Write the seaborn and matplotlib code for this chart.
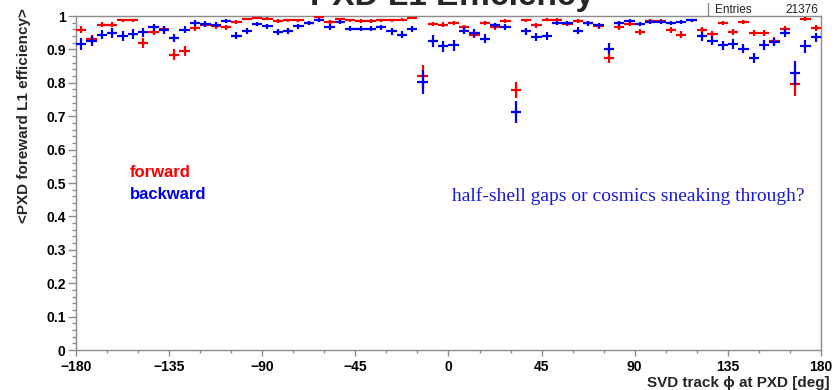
import numpy as np
import pandas as pd
import matplotlib
matplotlib.use("Agg")
import matplotlib.pyplot as plt
from matplotlib.ticker import MultipleLocator, FixedLocator, FixedFormatter
import seaborn as sns

# 72 bins of 5 deg in phi
phi_edges = np.arange(-180, 181, 5)
phi_centers = (phi_edges[:-1] + phi_edges[1:]) / 2

eff_forward = [
    0.959, 0.930, 0.974, 0.974, 0.987, 0.987, 0.919, 0.952, 0.962, 0.884,
    0.894, 0.964, 0.974, 0.969, 0.966, 0.982, 0.991, 0.994, 0.992, 0.984,
    0.987, 0.987, 0.979, 0.998, 0.982, 0.990, 0.987, 0.984, 0.984, 0.987,
    0.987, 0.989, 0.994, 0.819, 0.976, 0.974, 0.979, 0.966, 0.944, 0.979,
    0.967, 0.984, 0.779, 0.987, 0.972, 0.989, 0.989, 0.976, 0.984, 0.978,
    0.969, 0.874, 0.967, 0.976, 0.952, 0.984, 0.984, 0.959, 0.944, 0.987,
    0.959, 0.946, 0.979, 0.952, 0.982, 0.949, 0.949, 0.924, 0.962, 0.796,
    0.991, 0.964,
]
err_forward = [
    0.010, 0.012, 0.008, 0.008, 0.005, 0.005, 0.014, 0.010, 0.009, 0.016,
    0.015, 0.009, 0.008, 0.008, 0.008, 0.006, 0.004, 0.004, 0.004, 0.006,
    0.005, 0.005, 0.006, 0.003, 0.006, 0.005, 0.005, 0.006, 0.006, 0.005,
    0.005, 0.005, 0.004, 0.034, 0.007, 0.007, 0.006, 0.008, 0.011, 0.006,
    0.008, 0.006, 0.024, 0.005, 0.007, 0.005, 0.005, 0.007, 0.006, 0.006,
    0.008, 0.016, 0.008, 0.007, 0.010, 0.006, 0.006, 0.009, 0.011, 0.005,
    0.009, 0.010, 0.006, 0.010, 0.006, 0.010, 0.010, 0.012, 0.009, 0.035,
    0.005, 0.009,
]
eff_backward = [
    0.916, 0.926, 0.944, 0.949, 0.939, 0.946, 0.951, 0.966, 0.958, 0.934,
    0.959, 0.979, 0.976, 0.974, 0.986, 0.941, 0.954, 0.976, 0.969, 0.952,
    0.954, 0.969, 0.979, 0.988, 0.967, 0.982, 0.962, 0.962, 0.962, 0.966,
    0.954, 0.944, 0.962, 0.802, 0.926, 0.909, 0.912, 0.956, 0.949, 0.932,
    0.972, 0.967, 0.713, 0.954, 0.937, 0.939, 0.979, 0.979, 0.956, 0.978,
    0.972, 0.902, 0.978, 0.986, 0.976, 0.982, 0.982, 0.979, 0.981, 0.987,
    0.939, 0.926, 0.912, 0.916, 0.902, 0.874, 0.912, 0.922, 0.949, 0.829,
    0.909, 0.936,
]
err_backward = [
    0.018, 0.015, 0.014, 0.014, 0.015, 0.014, 0.013, 0.011, 0.012, 0.013,
    0.010, 0.008, 0.008, 0.008, 0.006, 0.011, 0.009, 0.007, 0.007, 0.009,
    0.009, 0.008, 0.007, 0.006, 0.009, 0.006, 0.008, 0.008, 0.008, 0.008,
    0.010, 0.011, 0.009, 0.035, 0.018, 0.017, 0.016, 0.010, 0.011, 0.014,
    0.008, 0.008, 0.032, 0.010, 0.013, 0.012, 0.007, 0.007, 0.010, 0.007,
    0.008, 0.016, 0.007, 0.006, 0.007, 0.006, 0.006, 0.007, 0.006, 0.005,
    0.013, 0.014, 0.014, 0.014, 0.014, 0.016, 0.015, 0.013, 0.011, 0.036,
    0.020, 0.013,
]

y_ticks = [0, 0.1, 0.2, 0.3, 0.4, 0.5, 0.6, 0.7, 0.8, 0.9, 1.0]
y_tick_labels = ["0", "0.1", "0.2", "0.3", "0.4", "0.5", "0.6", "0.7", "0.8", "0.9", "1"]
x_ticks = [-180, -135, -90, -45, 0, 45, 90, 135, 180]

df = pd.concat([
    pd.DataFrame({"phi": phi_centers, "eff": eff_forward, "err": err_forward, "side": "forward"}),
    pd.DataFrame({"phi": phi_centers, "eff": eff_backward, "err": err_backward, "side": "backward"}),
])

sns.set_theme(style="ticks")
plt.rcParams["font.family"] = ["Liberation Sans", "DejaVu Sans"]
palette = dict(zip(["forward", "backward"], sns.color_palette(["#f80000", "#0000f0"])))

W, H = 837, 390
fig = plt.figure(figsize=(W / 100, H / 100), dpi=100)
ax = fig.add_axes([76 / W, 40 / H, 745 / W, 334 / H])

for side in ["forward", "backward"]:
    d = df[df["side"] == side]
    ax.errorbar(d["phi"], d["eff"], xerr=2.5, yerr=d["err"], fmt="none",
                ecolor=palette[side], elinewidth=1.6, capsize=0, zorder=3)

ax.set_xlim(-180, 180)
ax.set_ylim(0, 1)
ax.xaxis.set_major_locator(FixedLocator(x_ticks))
ax.xaxis.set_minor_locator(MultipleLocator(15))
ax.yaxis.set_major_locator(FixedLocator(y_ticks))
ax.yaxis.set_major_formatter(FixedFormatter(y_tick_labels))
ax.yaxis.set_minor_locator(MultipleLocator(0.02))

frame = "#8c8c8c"
for s in ax.spines.values():
    s.set_color(frame)
    s.set_linewidth(1.0)
ax.tick_params(which="both", direction="out", colors=frame, labelcolor="black")
ax.tick_params(axis="y", which="major", length=5.5, width=1.0, pad=2)
ax.tick_params(axis="y", which="minor", length=3, width=1.0)
ax.tick_params(axis="x", which="major", length=4.5, width=1.0, pad=3)
ax.tick_params(axis="x", which="minor", length=2.5, width=1.0)
for lab in ax.get_xticklabels() + ax.get_yticklabels():
    lab.set_fontsize(10)
    lab.set_fontweight("bold")

ax.set_ylabel("<PXD foreward L1 efficiency>", fontsize=11, fontweight="bold", loc="top")
ax.yaxis.set_label_coords(-0.06, 1.025)

fig.text(647 / W, 1 - 387 / H, "SVD track \u03d5 at PXD [deg]", fontsize=11,
         fontweight="bold", ha="left", va="baseline")

fig.text(452 / W, 1 - 4.5 / H, "PXD L1 Efficiency", fontsize=24, fontweight="bold",
         ha="center", va="baseline")

# stats box remnant
fig.add_artist(plt.Line2D([708 / W, 708 / W], [1 - 3 / H, 1 - 16 / H], color=frame, lw=1))
fig.text(715 / W, 1 - 13 / H, "Entries", fontsize=8.5, ha="left", va="baseline", color="#222222")
fig.text(818 / W, 1 - 13 / H, "21376", fontsize=8.5, ha="right", va="baseline", color="#222222")

ax.text(130 / W, 1 - 177 / H, "forward", transform=fig.transFigure, fontsize=12,
        fontweight="bold", color="#f80000", ha="left", va="baseline")
ax.text(130 / W, 1 - 199 / H, "backward", transform=fig.transFigure, fontsize=12,
        fontweight="bold", color="#0000f0", ha="left", va="baseline")
ax.text(452 / W, 1 - 201 / H, "half-shell gaps or cosmics sneaking through?",
        transform=fig.transFigure, fontsize=14, color="#1a1ad0",
        family=["Liberation Serif", "DejaVu Serif"], ha="left", va="baseline")

fig.savefig("out.png", dpi=100)
